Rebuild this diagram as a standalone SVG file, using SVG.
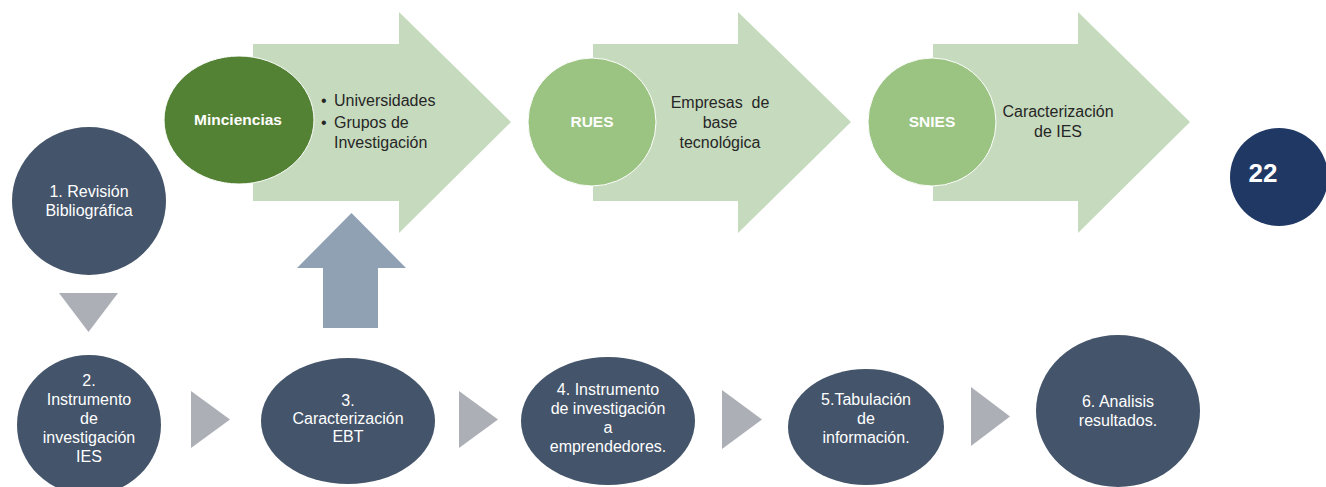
<svg xmlns="http://www.w3.org/2000/svg" width="1326" height="487" viewBox="0 0 1326 487">
<style>
  text { font-family: "Liberation Sans", Arial, sans-serif; }
  .bigarrow { fill: #C6DBBE; }
  .step { fill: #44546A; }
  .stxt { fill: #FFFFFF; font-size: 16px; text-anchor: middle; }
  .atxt { fill: #262626; font-size: 16px; }
  .ctr { text-anchor: middle; }
  .src { fill: #FFFFFF; font-size: 15.5px; font-weight: bold; text-anchor: middle; }
  .tri { fill: #ACAFB6; }
  .up { fill: #8FA1B3; }
</style>
<rect width="1326" height="487" fill="#FFFFFF"/>

<g id="src-minciencias">
  <polygon class="bigarrow" points="253,44 399,44 399,12 511,122 399,233 399,201 253,201"/>
  <ellipse cx="239" cy="120" rx="75" ry="64" fill="#548235" stroke="#FFFFFF" stroke-width="1"/>
  <text class="src" x="238" y="125">Minciencias</text>
  <text class="atxt" x="321" y="106">•</text>
  <text class="atxt" x="334" y="106">Universidades</text>
  <text class="atxt" x="321" y="128">•</text>
  <text class="atxt" x="334" y="128">Grupos de</text>
  <text class="atxt" x="334" y="148">Investigación</text>
</g>

<g id="src-rues">
  <polygon class="bigarrow" points="593,44 738,44 738,12 851,122 738,233 738,201 593,201"/>
  <circle cx="592" cy="122" r="64" fill="#9BC382" stroke="#FFFFFF" stroke-width="1"/>
  <text class="src" x="592" y="127">RUES</text>
  <text class="atxt ctr" x="720" y="108">Empresas&#160; de</text>
  <text class="atxt ctr" x="720" y="128">base</text>
  <text class="atxt ctr" x="720" y="148">tecnológica</text>
</g>

<g id="src-snies">
  <polygon class="bigarrow" points="933,44 1078,44 1078,12 1190,122 1078,233 1078,201 933,201"/>
  <circle cx="932" cy="122" r="64" fill="#9BC382" stroke="#FFFFFF" stroke-width="1"/>
  <text class="src" x="932" y="127">SNIES</text>
  <text class="atxt ctr" x="1058" y="117">Caracterización</text>
  <text class="atxt ctr" x="1058" y="137">de IES</text>
</g>

<g id="page-number">
  <circle cx="1279" cy="177" r="49" fill="#203864"/>
  <text x="1263" y="182" fill="#FFFFFF" font-size="26" font-weight="bold" text-anchor="middle">22</text>
</g>

<g id="step1">
  <ellipse class="step" cx="89" cy="201" rx="77" ry="74"/>
  <text class="stxt" x="89" y="197">1. Revisión</text>
  <text class="stxt" x="89" y="216">Bibliográfica</text>
</g>

<g id="step2">
  <ellipse class="step" cx="89" cy="425" rx="72" ry="70"/>
  <text class="stxt" x="89" y="386">2.</text>
  <text class="stxt" x="89" y="405">Instrumento</text>
  <text class="stxt" x="89" y="424">de</text>
  <text class="stxt" x="89" y="443">investigación</text>
  <text class="stxt" x="89" y="462">IES</text>
</g>

<g id="step3">
  <ellipse class="step" cx="348" cy="421" rx="87" ry="63"/>
  <text class="stxt" x="348" y="406">3.</text>
  <text class="stxt" x="348" y="424">Caracterización</text>
  <text class="stxt" x="348" y="442">EBT</text>
</g>

<g id="step4">
  <ellipse class="step" cx="608" cy="421" rx="87" ry="64"/>
  <text class="stxt" x="608" y="395">4. Instrumento</text>
  <text class="stxt" x="608" y="414">de investigación</text>
  <text class="stxt" x="608" y="433">a</text>
  <text class="stxt" x="608" y="452">emprendedores.</text>
</g>

<g id="step5">
  <ellipse class="step" cx="866" cy="427" rx="78" ry="58"/>
  <text class="stxt" x="866" y="405">5.Tabulación</text>
  <text class="stxt" x="866" y="424">de</text>
  <text class="stxt" x="866" y="443">información.</text>
</g>

<g id="step6">
  <ellipse class="step" cx="1118" cy="411" rx="82" ry="76"/>
  <text class="stxt" x="1118" y="407">6. Analisis</text>
  <text class="stxt" x="1118" y="426">resultados.</text>
</g>

<g id="connectors">
  <polygon class="tri" points="59,293 118,293 88.5,332"/>
  <polygon class="up" points="323,328 378,328 378,268 406,268 351.5,213 297,268 323,268"/>
  <polygon class="tri" points="191,391 230,419.5 191,448"/>
  <polygon class="tri" points="459,391 498,419.5 459,448"/>
  <polygon class="tri" points="722,390 762,419.5 722,449"/>
  <polygon class="tri" points="971,387 1010,416.5 971,446"/>
</g>
</svg>
